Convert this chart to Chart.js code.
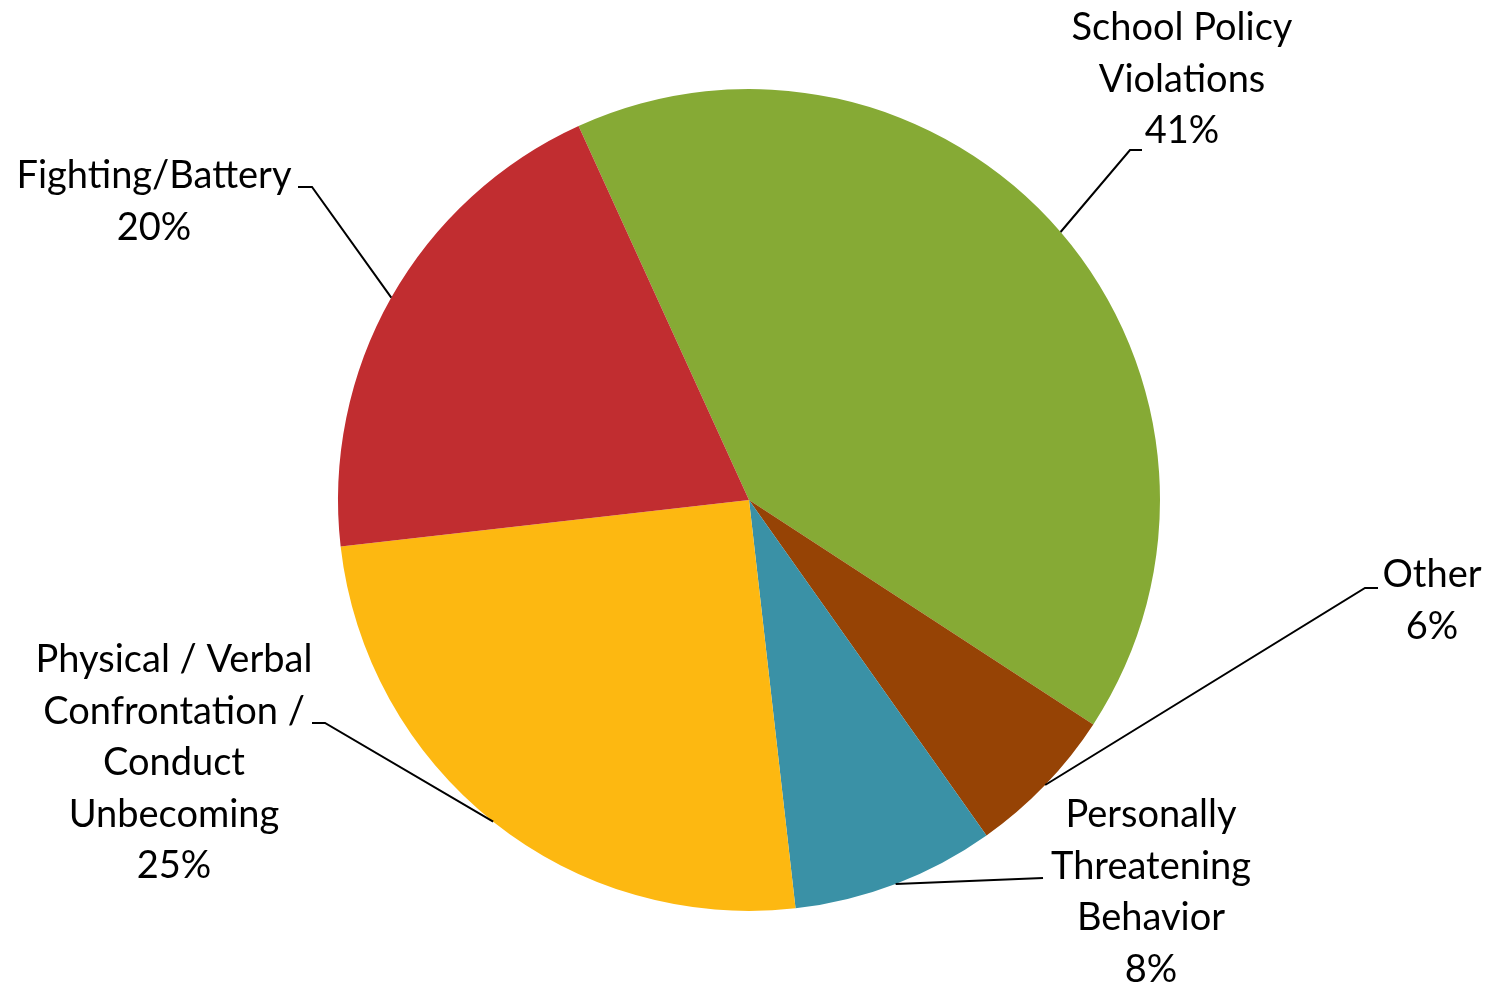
<!DOCTYPE html>
<html>
<head>
<meta charset="utf-8">
<script src="https://cdn.jsdelivr.net/npm/chart.js@4"></script>
<style>
  html, body { margin: 0; padding: 0; background: #fff; }
  #wrap { width: 1487px; height: 987px; position: relative; }
</style>
</head>
<body>
<div id="wrap"><canvas id="incidentChart"></canvas></div>
<script>
// data
const categories = [
  ['School Policy', 'Violations'],
  ['Other'],
  ['Personally', 'Threatening', 'Behavior'],
  ['Physical / Verbal', 'Confrontation /', 'Conduct', 'Unbecoming'],
  ['Fighting/Battery']
];
const shares = [41, 6, 8, 25, 20];
const sliceColors = ['#86AA35', '#964305', '#3A91A6', '#FDB811', '#C12D30'];

// where each label sits: text centre x, first line y, elbow of the leader line
const labelSpots = [
  { x: 1182, y: 28,  elbow: [[1130, 150], [1142, 150]] },
  { x: 1432, y: 575, elbow: [[1365, 588], [1378, 588]] },
  { x: 1151, y: 815, elbow: [[1043, 878]] },
  { x: 174,  y: 660, elbow: [[325, 723], [312, 723]] },
  { x: 154,  y: 176, elbow: [[312, 187], [298, 187]] }
];

const lineGap = 51.5;

const sliceLabels = {
  id: 'sliceLabels',
  afterDraw(chart) {
    const c = chart.ctx;
    const arcs = chart.getDatasetMeta(0).data;
    c.save();
    c.font = '38px Lato, "Open Sans", sans-serif';
    c.fillStyle = '#000';
    c.textAlign = 'center';
    c.textBaseline = 'middle';
    c.strokeStyle = '#000';
    c.lineWidth = 2;
    arcs.forEach((arc, i) => {
      const p = arc.getProps(['x', 'y', 'startAngle', 'endAngle', 'outerRadius'], true);
      const mid = (p.startAngle + p.endAngle) / 2;
      const sx = p.x + Math.cos(mid) * p.outerRadius;
      const sy = p.y + Math.sin(mid) * p.outerRadius;
      const spot = labelSpots[i];
      c.beginPath();
      c.moveTo(sx, sy);
      spot.elbow.forEach(pt => c.lineTo(pt[0], pt[1]));
      c.stroke();
      const lines = categories[i].concat([shares[i] + '%']);
      lines.forEach((t, k) => c.fillText(t, spot.x, spot.y + k * lineGap));
    });
    c.restore();
  }
};

const ctx = document.getElementById('incidentChart').getContext('2d');

const incidentChart = new Chart(ctx, {
  type: 'pie',
  data: {
    labels: categories,
    datasets: [{
      data: shares,
      backgroundColor: sliceColors,
      borderWidth: 0
    }]
  },
  options: {
    responsive: true,
    maintainAspectRatio: false,
    animation: false,
    rotation: -24.5,
    layout: {
      padding: { top: 89, bottom: 76, left: 338, right: 327 }
    },
    plugins: {
      legend: { display: false },
      tooltip: { enabled: false }
    }
  },
  plugins: [sliceLabels]
});
</script>
</body>
</html>
